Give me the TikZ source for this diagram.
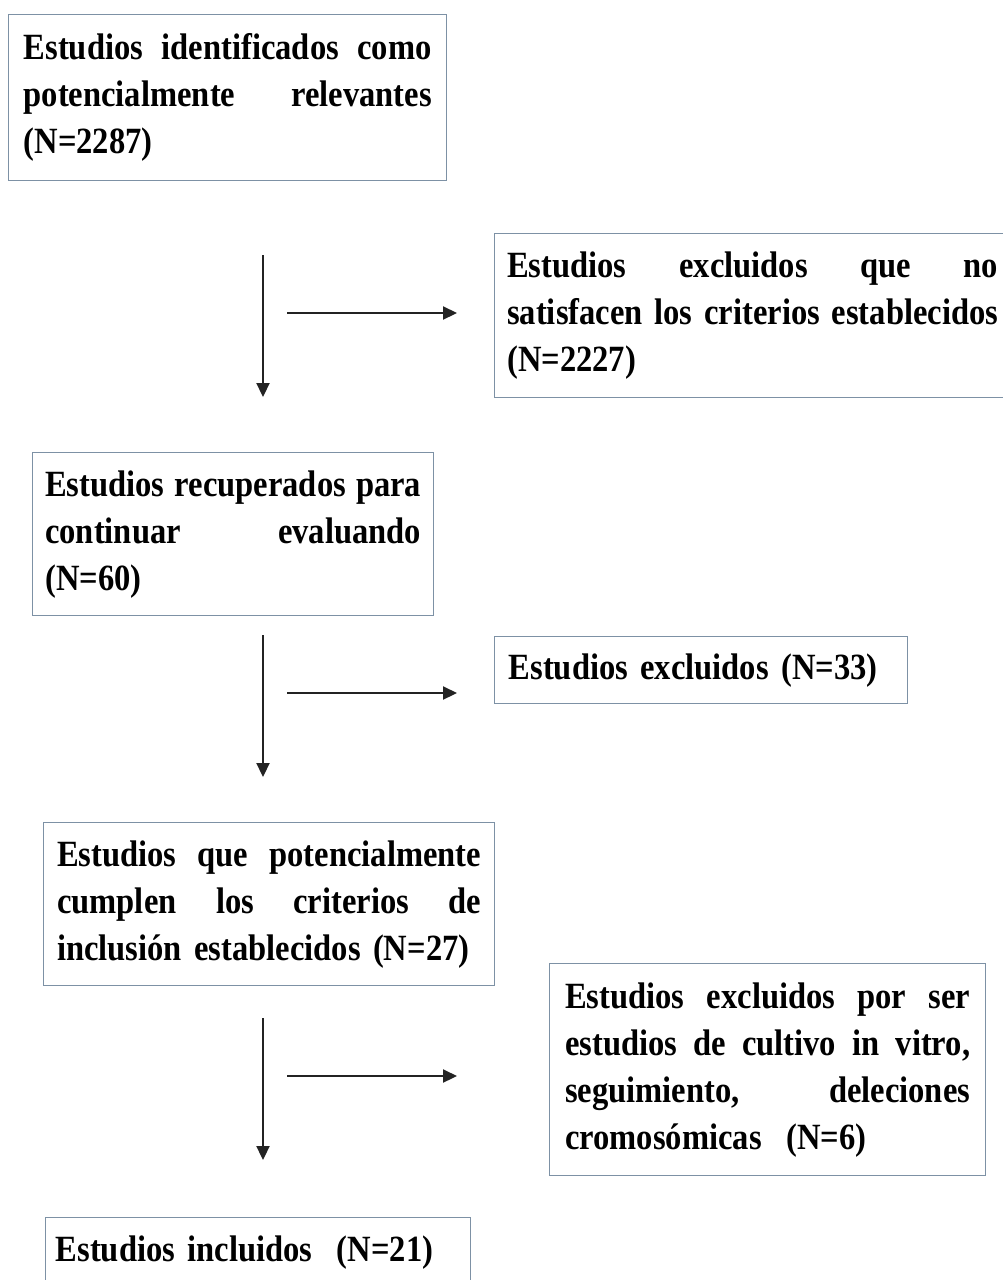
\documentclass[tikz,border=0pt]{standalone}
\usepackage{fontspec}
\setmainfont{Liberation Serif}[FakeStretch=0.88]
\usetikzlibrary{arrows.meta}
\definecolor{boxline}{RGB}{125,145,165}
\definecolor{arrowcol}{RGB}{35,35,35}
\newcommand{\jline}[2]{\leavevmode\hbox to #1{#2}}
\newcommand{\gap}{\hskip 0.22em plus 1fil minus 0.05em\relax}
\newcommand{\boxfont}{\fontsize{37}{47}\selectfont\bfseries}
\begin{document}
\begin{tikzpicture}[x=1pt,y=-1pt,
  flowbox/.style={draw=boxline, line width=1.4pt, fill=white, rectangle, anchor=north west,
    inner xsep=0pt, inner ysep=0pt, align=left, font=\boxfont},
  flowarrow/.style={draw=arrowcol, line width=2.2pt, -{Triangle[length=14pt,width=13pt]}}
]
\useasboundingbox (0,0) rectangle (1003,1280);
\fill[white] (0,0) rectangle (1003,1280);

\node[flowbox, minimum width=438pt, minimum height=166pt, text width=408pt] (b1) at (8,14)
  {\jline{408pt}{Estudios\gap identificados\gap como}\\ \jline{408pt}{potencialmente\gap relevantes}\\ (N=2287)};
\node[flowbox, minimum width=516pt, minimum height=164pt, text width=491pt] (b2) at (494,233)
  {\jline{491pt}{Estudios\gap excluidos\gap que\gap no}\\ \jline{491pt}{satisfacen\gap los\gap criterios\gap establecidos}\\ (N=2227)};
\node[flowbox, minimum width=401pt, minimum height=163pt, text width=376pt] (b3) at (32,452)
  {\jline{376pt}{Estudios\gap recuperados\gap para}\\ \jline{376pt}{continuar\gap evaluando}\\ (N=60)};
\node[flowbox, minimum width=413pt, minimum height=67pt, text width=385pt] (b4) at (494,636)
  {Estudios excluidos (N=33)};
\node[flowbox, minimum width=451pt, minimum height=163pt, text width=424pt] (b5) at (43,822)
  {\jline{424pt}{Estudios\gap que\gap potencialmente}\\ \jline{424pt}{cumplen\gap los\gap criterios\gap de}\\ inclusión establecidos (N=27)};
\node[flowbox, minimum width=436pt, minimum height=212pt, text width=405pt] (b6) at (549,963)
  {\jline{405pt}{Estudios\gap excluidos\gap por\gap ser}\\ \jline{405pt}{estudios\gap de\gap cultivo\gap in\gap vitro,}\\ \jline{405pt}{seguimiento,\gap deleciones}\\ cromosómicas\ \ (N=6)};
\node[flowbox, minimum width=425pt, minimum height=70pt, text width=405pt] (b7) at (45,1217)
  {Estudios incluidos\ \ (N=21)};

\coordinate (v1s) at (263,255); \coordinate (v1e) at (263,397);
\coordinate (h1s) at (287,313); \coordinate (h1e) at (457,313);
\coordinate (v2s) at (263,635); \coordinate (v2e) at (263,777);
\coordinate (h2s) at (287,693); \coordinate (h2e) at (457,693);
\coordinate (v3s) at (263,1018); \coordinate (v3e) at (263,1160);
\coordinate (h3s) at (287,1076); \coordinate (h3e) at (457,1076);

\draw[flowarrow] (v1s) -- (v1e);
\draw[flowarrow] (h1s) -- (h1e);
\draw[flowarrow] (v2s) -- (v2e);
\draw[flowarrow] (h2s) -- (h2e);
\draw[flowarrow] (v3s) -- (v3e);
\draw[flowarrow] (h3s) -- (h3e);
\end{tikzpicture}
\end{document}
